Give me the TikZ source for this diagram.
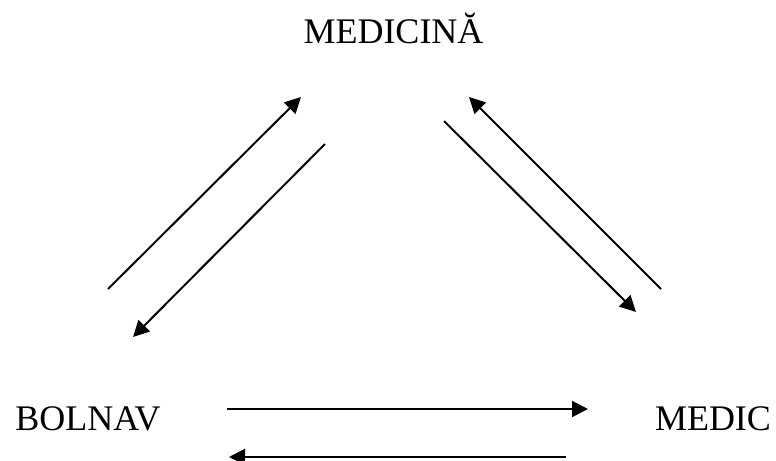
\documentclass[tikz,border=0pt]{standalone}
\usepackage{fontspec}
\setmainfont{Liberation Serif}
\usetikzlibrary{arrows.meta}

\begin{document}
\begin{tikzpicture}[x=0.75pt,y=-0.75pt,
	term/.style={anchor=base,inner sep=0pt,font=\fontsize{27}{30}\selectfont},
	flow/.style={line width=1.5pt,-{Triangle[length=12pt,width=12pt]}}]
					\useasboundingbox (0,0) rectangle (776,461);
					% termeni
					\node[term] (medicina) at (393.5,43) {MEDICINĂ};
					\node[term] (bolnav) at (88,430) {BOLNAV};
					\node[term] (medic) at (713,430) {MEDIC};
					% capete
					\coordinate (bm1) at (108,289);
					\coordinate (bm2) at (301,97);
					\coordinate (mb1) at (325,144);
					\coordinate (mb2) at (133,337);
					\coordinate (dm1) at (661,289);
					\coordinate (dm2) at (469,97);
					\coordinate (md1) at (444,121);
					\coordinate (md2) at (636,312);
					\coordinate (bd1) at (227,409);
					\coordinate (bd2) at (588,409);
					\coordinate (db1) at (566,457);
					\coordinate (db2) at (229,457);
					% sageti
					\draw[flow] (bm1) -- (bm2);
					\draw[flow] (mb1) -- (mb2);
					\draw[flow] (dm1) -- (dm2);
					\draw[flow] (md1) -- (md2);
					\draw[flow] (bd1) -- (bd2);
					\draw[flow] (db1) -- (db2);
\end{tikzpicture}
\end{document}
